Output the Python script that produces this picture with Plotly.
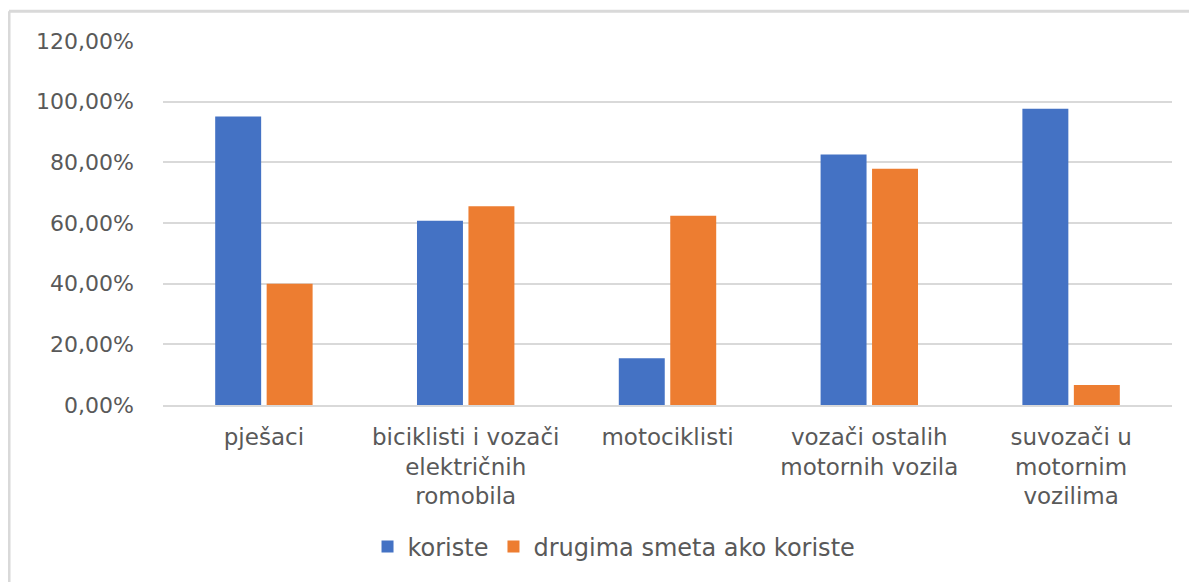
import plotly.graph_objects as go

categories = ["pješaci", "biciklisti i vozači<br>električnih<br>romobila", "motociklisti",
              "vozači ostalih<br>motornih vozila", "suvozači u<br>motornim<br>vozilima"]
koriste = [0.951, 0.6075, 0.154, 0.826, 0.977]
smeta = [0.400, 0.655, 0.624, 0.779, 0.066]
y_ticks = [0, 0.2, 0.4, 0.6, 0.8, 1.0, 1.2]
y_labels = ["0,00%", "20,00%", "40,00%", "60,00%", "80,00%", "100,00%", "120,00%"]

fig = go.Figure()
fig.add_trace(go.Bar(x=categories, y=koriste, name="koriste", marker_color="#4472C4",
                     marker_line_width=0))
fig.add_trace(go.Bar(x=categories, y=smeta, name="drugima smeta ako koriste",
                     marker_color="#ED7D31", marker_line_width=0))

# page body has an 8px margin, so the figure is a bit smaller than the window
fig.update_layout(
    width=1189, height=574,
    margin=dict(l=155, r=25, t=33, b=175),
    plot_bgcolor="white", paper_bgcolor="white",
    barmode="group", bargap=0.49, bargroupgap=0.107,
    font=dict(family="DejaVu Sans", size=22, color="#595959"),
    legend=dict(orientation="h", x=0.447, xanchor="center", y=-0.39, yanchor="middle",
                font=dict(size=24), itemwidth=30, traceorder="normal"),
    showlegend=True,
)
fig.update_xaxes(showline=True, linecolor="#D9D9D9", linewidth=2, ticks="",
                 tickfont=dict(size=23), ticklabelstandoff=10, fixedrange=True)
fig.update_yaxes(range=[0, 1.2], tickvals=y_ticks, ticktext=y_labels, showgrid=True,
                 gridcolor="#D9D9D9", gridwidth=2, zeroline=False, showline=False,
                 tickfont=dict(size=22, color="#595959"), ticklabelstandoff=28)

# chart frame (top and left edges visible in reference)
fig.add_shape(type="line", xref="paper", yref="paper", x0=-0.1526, x1=1.06, y0=1.082, y1=1.082,
              line=dict(color="#D9D9D9", width=3))
fig.add_shape(type="line", xref="paper", yref="paper", x0=-0.1526, x1=-0.1526, y0=1.082, y1=-0.5,
              line=dict(color="#D9D9D9", width=3))

fig.write_html("out.html")
